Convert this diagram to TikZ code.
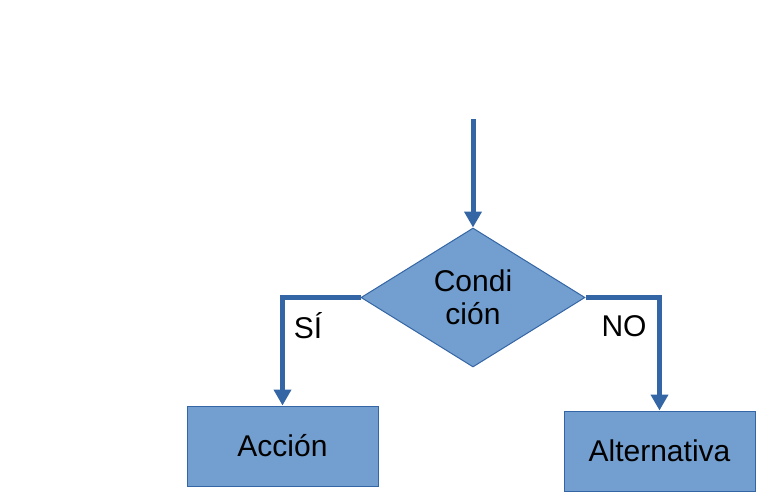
\documentclass[tikz,border=0pt]{standalone}
\usepackage{fontspec}
\setmainfont{Liberation Sans}
\usetikzlibrary{shapes.geometric,arrows.meta}
\definecolor{boxfill}{HTML}{729FCF}
\definecolor{boxline}{HTML}{3465A4}
\tikzset{
  flowbox/.style={draw=boxline,fill=boxfill,line width=0.5pt,minimum width=95.5pt,minimum height=40pt,font=\fontsize{15}{16.5}\selectfont},
  decision/.style={diamond,draw=boxline,fill=boxfill,line width=0.5pt,aspect=1.6,inner sep=0pt,minimum width=112pt,minimum height=69.5pt,align=center,font=\fontsize{15}{16.5}\selectfont},
  flowline/.style={draw=boxline,line width=2.5pt,-{Triangle[length=8pt,width=8.5pt]}},
  branchlabel/.style={font=\fontsize{15}{18}\selectfont}
}
\begin{document}
\begin{tikzpicture}[x=0.5pt,y=-0.5pt]
\useasboundingbox (0,0) rectangle (761,499);
\node[decision] (cond) at (473,297.5) {Condi\\ción};
\node[flowbox] (accion) at (282.5,446) {Acción};
\node[flowbox] (alt) at (659.5,451) {Alternativa};
\coordinate (start) at (473,119);
\draw[flowline] (start) -- (cond.north);
\draw[flowline] (cond.west) -| (accion.north);
\draw[flowline] (cond.east) -| (alt.north);
\node[branchlabel] (si) at (308,326) {SÍ};
\node[branchlabel] (no) at (624,326) {NO};
\end{tikzpicture}
\end{document}
